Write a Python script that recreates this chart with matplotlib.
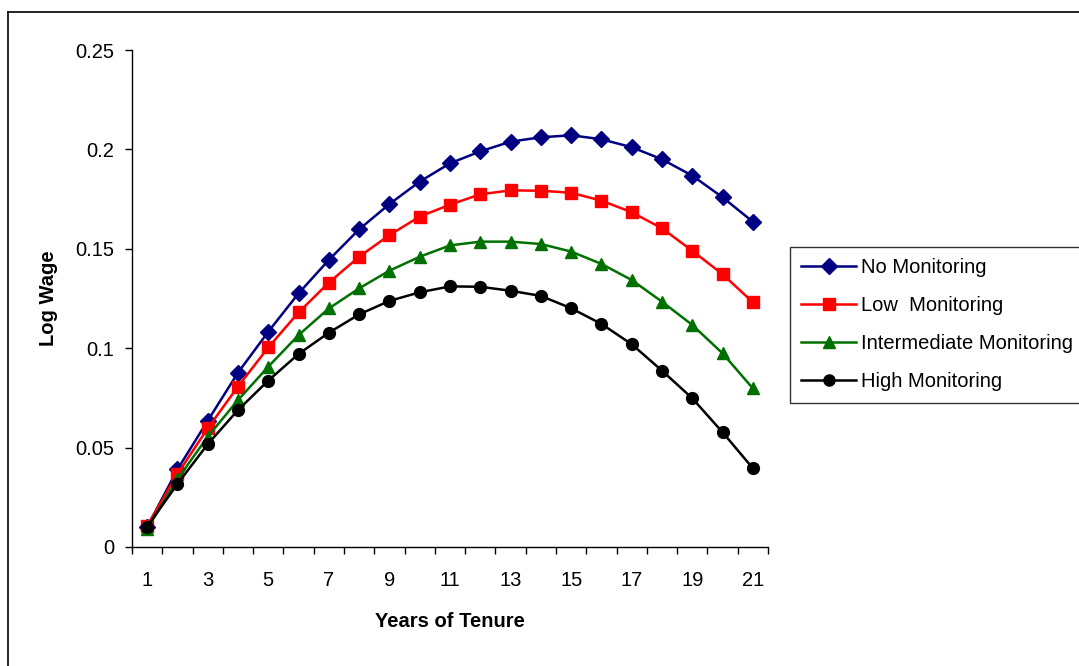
import matplotlib
matplotlib.use("Agg")
import matplotlib.pyplot as plt
from matplotlib.lines import Line2D
from matplotlib.ticker import FixedLocator, FuncFormatter

plt.rcParams['font.family'] = ['Liberation Sans', 'DejaVu Sans']

tenure = list(range(1, 22))
no_monitoring = [0.0100, 0.0390, 0.0635, 0.0877, 0.1083, 0.1276, 0.1444, 0.1598, 0.1725, 0.1838,
                 0.1930, 0.1990, 0.2039, 0.2061, 0.2071, 0.2051, 0.2011, 0.1950, 0.1868, 0.1759, 0.1636]
low_monitoring = [0.0106, 0.0367, 0.0597, 0.0807, 0.1004, 0.1180, 0.1330, 0.1460, 0.1569, 0.1662,
                  0.1722, 0.1774, 0.1794, 0.1792, 0.1782, 0.1742, 0.1684, 0.1603, 0.1490, 0.1372, 0.1231]
intermediate_monitoring = [0.0092, 0.0341, 0.0555, 0.0739, 0.0907, 0.1066, 0.1200, 0.1301, 0.1390, 0.1460,
                           0.1517, 0.1536, 0.1536, 0.1524, 0.1486, 0.1424, 0.1343, 0.1234, 0.1117, 0.0974, 0.0798]
high_monitoring = [0.0102, 0.0317, 0.0517, 0.0689, 0.0837, 0.0971, 0.1078, 0.1170, 0.1238, 0.1281,
                   0.1311, 0.1309, 0.1289, 0.1263, 0.1201, 0.1122, 0.1020, 0.0887, 0.0748, 0.0577, 0.0396]
labels = ["No Monitoring", "Low  Monitoring", "Intermediate Monitoring", "High Monitoring"]
yticks = [0, 0.05, 0.1, 0.15, 0.2, 0.25]

W, H = 1079, 666
fig = plt.figure(figsize=(W / 100, H / 100), dpi=100)
ax = fig.add_axes([132 / W, 1 - 547 / H, (768 - 132) / W, (547 - 50) / H])

series = [no_monitoring, low_monitoring, intermediate_monitoring, high_monitoring]
styles = [("#000080", "D", 8), ("#FF0000", "s", 8), ("#007000", "^", 9), ("black", "o", 8.5)]
for vals, lab, (c, m, ms) in zip(series, labels, styles):
    ax.plot(tenure, vals, color=c, marker=m, markersize=ms, linewidth=1.8,
            markerfacecolor=c, markeredgecolor=c, label=lab, clip_on=False)

ax.set_xlim(0.5, 21.5)
ax.set_ylim(0, 0.25)
for s in ["top", "right"]:
    ax.spines[s].set_visible(False)
for s in ["left", "bottom"]:
    ax.spines[s].set_linewidth(1.0)

ax.xaxis.set_major_locator(FixedLocator(tenure[::2]))
ax.xaxis.set_minor_locator(FixedLocator([t + 0.5 for t in [0] + tenure]))
ax.tick_params(axis='x', which='major', length=0, labelsize=14.5, pad=17)
ax.tick_params(axis='x', which='minor', length=5, direction='out', width=1)
ax.set_yticks(yticks)
ax.yaxis.set_major_formatter(FuncFormatter(lambda v, p: "0" if v == 0 else ("%g" % v)))
ax.tick_params(axis='y', length=5, direction='out', width=1, labelsize=14.5, pad=8)

ax.set_xlabel("Years of Tenure", fontsize=14.5, fontweight='bold', labelpad=16)
ax.set_ylabel("Log Wage", fontsize=14.5, fontweight='bold', labelpad=12)

leg = ax.legend(loc='upper left', bbox_to_anchor=(790 / W, 1 - 247 / H),
                bbox_transform=fig.transFigure, fontsize=14.5, frameon=True, fancybox=False,
                shadow=False, handlelength=2.75, labelspacing=0.95, borderpad=0.55,
                handletextpad=0.25, borderaxespad=0)
leg.get_frame().set_edgecolor('black')
leg.get_frame().set_linewidth(1.0)
for h in leg.legend_handles:
    h.set_markersize(8)

# outer chart frame (left and top edges visible)
fig.add_artist(Line2D([8 / W, 8 / W], [0, 1 - 12 / H], transform=fig.transFigure, color='black', linewidth=1.2))
fig.add_artist(Line2D([8 / W, 1], [1 - 12 / H, 1 - 12 / H], transform=fig.transFigure, color='black', linewidth=1.2))

fig.savefig("out.png", dpi=100)
